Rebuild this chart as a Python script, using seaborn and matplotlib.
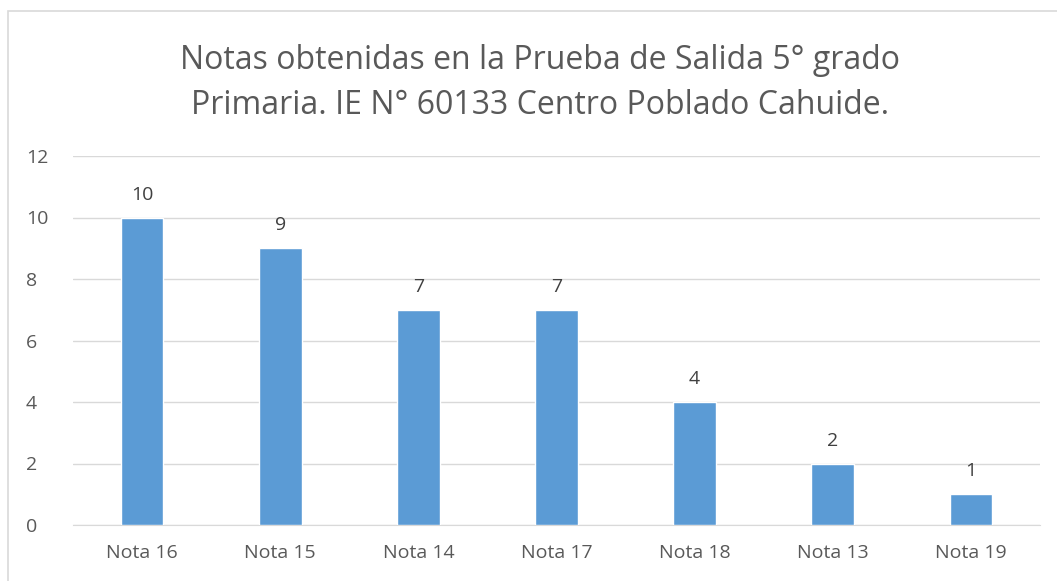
import matplotlib
matplotlib.use("Agg")
import matplotlib.pyplot as plt
from matplotlib.patches import Rectangle
import seaborn as sns
import pandas as pd

# Data
categorias = ["Nota 16", "Nota 15", "Nota 14", "Nota 17", "Nota 18", "Nota 13", "Nota 19"]
cantidad = [10, 9, 7, 7, 4, 2, 1]

df = pd.DataFrame({"Nota": categorias, "Cantidad": cantidad})

sns.set_style("white")
plt.rcParams['font.family'] = ['Open Sans', 'DejaVu Sans']

texto = "#595959"
fig = plt.figure(figsize=(10.57, 5.81), dpi=100)
ax = fig.add_axes([73 / 1057, 1 - 525 / 581, (1040 - 73) / 1057, (525 - 156) / 581])

sns.barplot(data=df, x="Nota", y="Cantidad", color="#5B9BD5", width=0.31,
            saturation=1, ax=ax, zorder=3)

for i, v in enumerate(cantidad):
    ax.text(i, v + 0.45, str(v), ha="center", va="bottom", fontsize=14, color="#404040")

ax.set_ylim(0, 12)
ax.set_yticks(range(0, 13, 2))
ax.set_xlim(-0.5, len(categorias) - 0.5)
ax.grid(axis="y", color="#D9D9D9", linewidth=1, zorder=0)
ax.set_xlabel("")
ax.set_ylabel("")
for s in ["top", "right", "left"]:
    ax.spines[s].set_visible(False)
ax.spines["bottom"].set_color("#D9D9D9")
ax.tick_params(axis="both", length=0, labelsize=14, colors=texto)
ax.tick_params(axis="x", pad=14)
ax.tick_params(axis="y", pad=34)
for lbl in ax.get_yticklabels():
    lbl.set_horizontalalignment("left")

fig.text(540 / 1057, 1 - 83 / 581,
         "Notas obtenidas en la Prueba de Salida 5° grado\nPrimaria. IE N° 60133 Centro Poblado Cahuide.",
         ha="center", va="center", fontsize=23, color=texto, linespacing=1.45)

# outer chart border
fig.patches.append(Rectangle((8 / 1057, -0.1), 1.2, 1.1 - 11 / 581, transform=fig.transFigure,
                             fill=False, edgecolor="#D9D9D9", linewidth=1.2))

fig.savefig("out.png", dpi=100)
